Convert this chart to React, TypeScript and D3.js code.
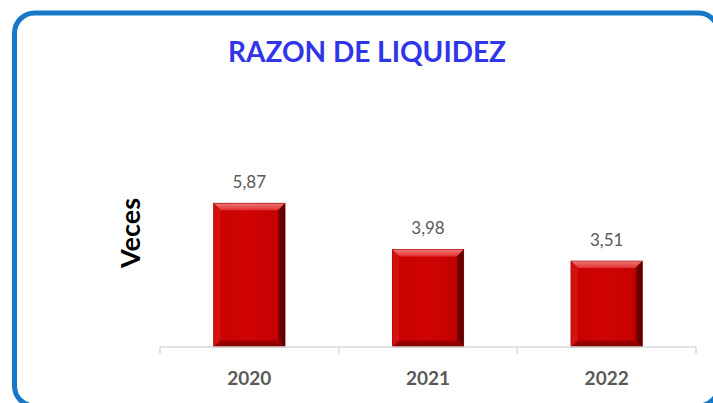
import React from "react";
import * as d3 from "d3";

const categories = ["2020", "2021", "2022"];
const values = [5.87, 3.98, 3.51];
const valueLabels = ["5,87", "3,98", "3,51"];
const title = "RAZON DE LIQUIDEZ";
const yTitle = "Veces";

const W = 713;
const H = 403;

export default function App() {
  const plotLeft = 160;
  const plotRight = 696;
  const baseY = 347;
  const x = d3.scaleBand<string>().domain(categories).range([plotLeft, plotRight]).paddingInner(0.6).paddingOuter(0.3);
  const y = d3.scaleLinear().domain([0, 7]).range([baseY, baseY - 171.5]);
  const bw = x.bandwidth();
  const bev = 7;
  const band = d3.scaleBand<string>().domain(categories).range([plotLeft, plotRight]);
  const tickXs = [plotLeft, ...categories.map((c) => (band(c) as number) + band.bandwidth())];
  const font = "Lato, 'Open Sans', sans-serif";

  return (
    <svg width={W} height={H} style={{ position: "absolute", left: 0, top: 0, display: "block" }}>
      <defs>
        <linearGradient id="face" x1="0" x2="1" y1="0" y2="0">
          <stop offset="0" stopColor="#c80000" />
          <stop offset="0.5" stopColor="#d00404" />
          <stop offset="1" stopColor="#c00000" />
        </linearGradient>
        <linearGradient id="topBev" x1="0" x2="0" y1="0" y2="1">
          <stop offset="0" stopColor="#f07a7a" />
          <stop offset="1" stopColor="#e03030" />
        </linearGradient>
        <linearGradient id="botBev" x1="0" x2="0" y1="0" y2="1">
          <stop offset="0" stopColor="#b00000" />
          <stop offset="1" stopColor="#7a0000" />
        </linearGradient>
        <linearGradient id="rightBev" x1="0" x2="1" y1="0" y2="0">
          <stop offset="0" stopColor="#8a0000" />
          <stop offset="1" stopColor="#4a0000" />
        </linearGradient>
      </defs>
      <rect x={0} y={0} width={W} height={H} fill="#ffffff" />
      <rect x={14.5} y={13} width={704} height={393} rx={20} ry={20} fill="#ffffff" stroke="#1878c8" strokeWidth={5} />
      <text x={367} y={62} textAnchor="middle" fontFamily={font} fontWeight="bold" fontSize={28} fill="#2f35e8">
        {title}
      </text>
      <text
        transform={`translate(140, 233) rotate(-90)`}
        textAnchor="middle"
        fontFamily={font}
        fontWeight="bold"
        fontSize={27}
        fill="#000000"
      >
        {yTitle}
      </text>
      {categories.map((c, i) => {
        const x0 = x(c) as number;
        const x1 = x0 + bw;
        const y0 = y(values[i]);
        const y1 = y(0);
        return (
          <g key={c}>
            <rect x={x0} y={y0} width={bw} height={y1 - y0} fill="url(#face)" />
            <polygon points={`${x0},${y0} ${x1},${y0} ${x1 - bev},${y0 + bev} ${x0 + bev},${y0 + bev}`} fill="url(#topBev)" />
            <polygon points={`${x0},${y1} ${x1},${y1} ${x1 - bev},${y1 - bev} ${x0 + bev},${y1 - bev}`} fill="url(#botBev)" />
            <polygon points={`${x0},${y0} ${x0 + bev},${y0 + bev} ${x0 + bev},${y1 - bev} ${x0},${y1}`} fill="#d41010" />
            <polygon points={`${x1},${y0} ${x1 - bev},${y0 + bev} ${x1 - bev},${y1 - bev} ${x1},${y1}`} fill="url(#rightBev)" />
            <rect x={x0} y={y0} width={bw} height={y1 - y0} fill="none" stroke="#a00000" strokeWidth={0.6} />
            <text x={x0 + bw / 2} y={y0 - 15} textAnchor="middle" fontFamily={font} fontSize={17} fill="#595959">
              {valueLabels[i]}
            </text>
            <text x={x0 + bw / 2} y={385} textAnchor="middle" fontFamily={font} fontWeight="bold" fontSize={19} fill="#595959">
              {c}
            </text>
          </g>
        );
      })}
      <line x1={plotLeft} x2={plotRight} y1={baseY} y2={baseY} stroke="#d9d9d9" strokeWidth={1.5} />
      {tickXs.map((tx, i) => (
        <line key={i} x1={tx} x2={tx} y1={baseY} y2={baseY + 7} stroke="#d9d9d9" strokeWidth={1.5} />
      ))}
    </svg>
  );
}
